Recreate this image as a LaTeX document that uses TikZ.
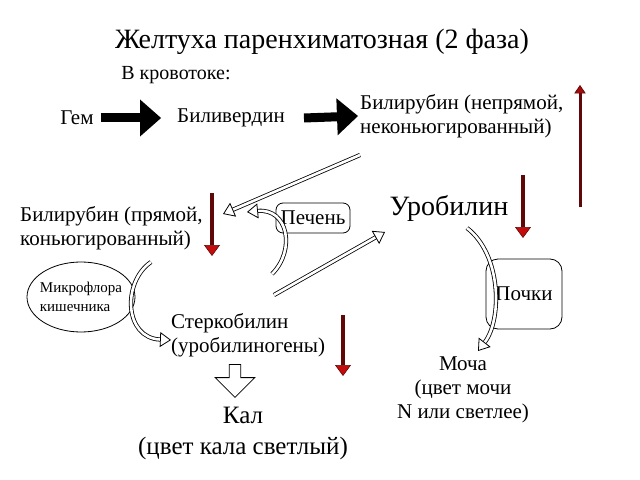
\documentclass[tikz,border=0pt]{standalone}
\usepackage{fontspec}
\setmainfont{Liberation Serif}
\newfontfamily\tnr{Liberation Serif}
\usetikzlibrary{arrows.meta,positioning,calc,shapes.geometric,shapes.arrows}
\definecolor{shaftred}{RGB}{96,8,8}
\definecolor{tipred}{RGB}{196,12,12}

\begin{document}
\begin{tikzpicture}[x=1pt,y=-1pt,scale=2,transform shape,
   txt/.style={font=\tnr\fontsize{21}{24}\selectfont,inner sep=1pt,align=left},
   big/.style={font=\tnr\fontsize{27}{31}\selectfont,inner sep=1pt,align=center},
   box/.style={draw,line width=1.6pt,rounded corners=14pt,font=\tnr\fontsize{21}{24}\selectfont,inner sep=3pt},
   fat/.style={line width=18pt,-{Triangle[length=42pt,width=74pt,line width=0pt]}},
   hollow/.style={double=white,double distance=5.2pt,line width=1.6pt,
      -{Triangle[open,length=22pt,width=30pt,fill=white,line width=1.6pt]}},
   rise/.style={shaftred,line width=7pt,
      -{Triangle[length=22pt,width=32pt,line width=1.2pt,fill=tipred]}},
   riseup/.style={shaftred,line width=6pt,
      -{Triangle[length=17pt,width=23pt,line width=1.4pt,fill=tipred!70!shaftred]}},
   blockdown/.style={single arrow,draw,line width=1.6pt,rotate=-90,minimum height=33pt,
      inner sep=5pt,single arrow head extend=14pt}]
  \useasboundingbox (0,0) rectangle (640,480);
  \node[big,font=\tnr\fontsize{28}{32}\selectfont] (title) at (322,42) {Желтуха паренхиматозная (2 фаза)};
  \node[txt,font=\tnr\fontsize{20}{24}\selectfont] (blood) at (176,75) {В кровотоке:};
  \node[txt] (gem) at (77,118) {Гем};
  \node[txt] (bv) at (231,118) {Биливердин};
  \node[txt,anchor=west] (bind) at (359,116) {Билирубин (непрямой,\\неконьюгированный)};
  \node[txt,anchor=west] (bdir) at (19,228) {Билирубин (прямой,\\коньюгированный)};
  \node[box,minimum width=74pt,minimum height=30pt] (liver) at (313,218) {Печень};
  \node[big,font=\tnr\fontsize{28}{32}\selectfont] (uro) at (449,208) {Уробилин};
  \node[box,rounded corners=24pt,minimum width=76pt,minimum height=70pt] (kid) at (524,294) {Почки};
  \node[ellipse,draw,line width=1.6pt,minimum width=108pt,minimum height=70pt,align=left,
     inner xsep=-5pt,inner ysep=0pt,font=\tnr\fontsize{15}{19}\selectfont] (flora) at (81,297) {Микрофлора\\кишечника};
  \node[txt,anchor=west] (sterc) at (170,335) {Стеркобилин\\(уробилиногены)};
  \node[big,font=\tnr\fontsize{25}{31}\selectfont] (kal) at (243,433) {Кал\\(цвет кала светлый)};
  \node[txt,align=center] (urine) at (463,390) {Моча\\(цвет мочи\\N или светлее)};
  \node[blockdown] (down) at (235,378) {};
  \draw[fat] ($(gem.east)+(6,0)$) -- ($(bv.west)+(-15,0)$);
  \draw[fat] ($(bv.east)+(18,0)$) -- ($(bind.west)+(-1,0)$);
  \coordinate (h1) at (360,155);
  \coordinate (h2) at (223,214);
  \coordinate (h3) at (274,295);
  \coordinate (h4) at (385,232);
  \draw[hollow] (h1) -- (h2);
  \draw[hollow] (h3) -- (h4);
  \coordinate (c1) at (272,274);
  \coordinate (c2) at (247,212);
  \draw[hollow] (c1) .. controls (296,250) and (288,208) .. (c2);
  \coordinate (f1) at (151,262);
  \coordinate (f2) at (171,340);
  \draw[hollow] (f1) .. controls (122,282) and (124,338) .. (f2);
  \coordinate (k1) at (467,228);
  \coordinate (k2) at (478,351);
  \draw[hollow] (k1) .. controls (502,255) and (502,320) .. (k2);
  \draw[riseup] (580,207) -- (580,85);
  \draw[rise] (212,193) -- (212,256);
  \draw[rise] (523,175) -- (523,238);
  \draw[rise] (343,315) -- (343,376);
\end{tikzpicture}
\end{document}
